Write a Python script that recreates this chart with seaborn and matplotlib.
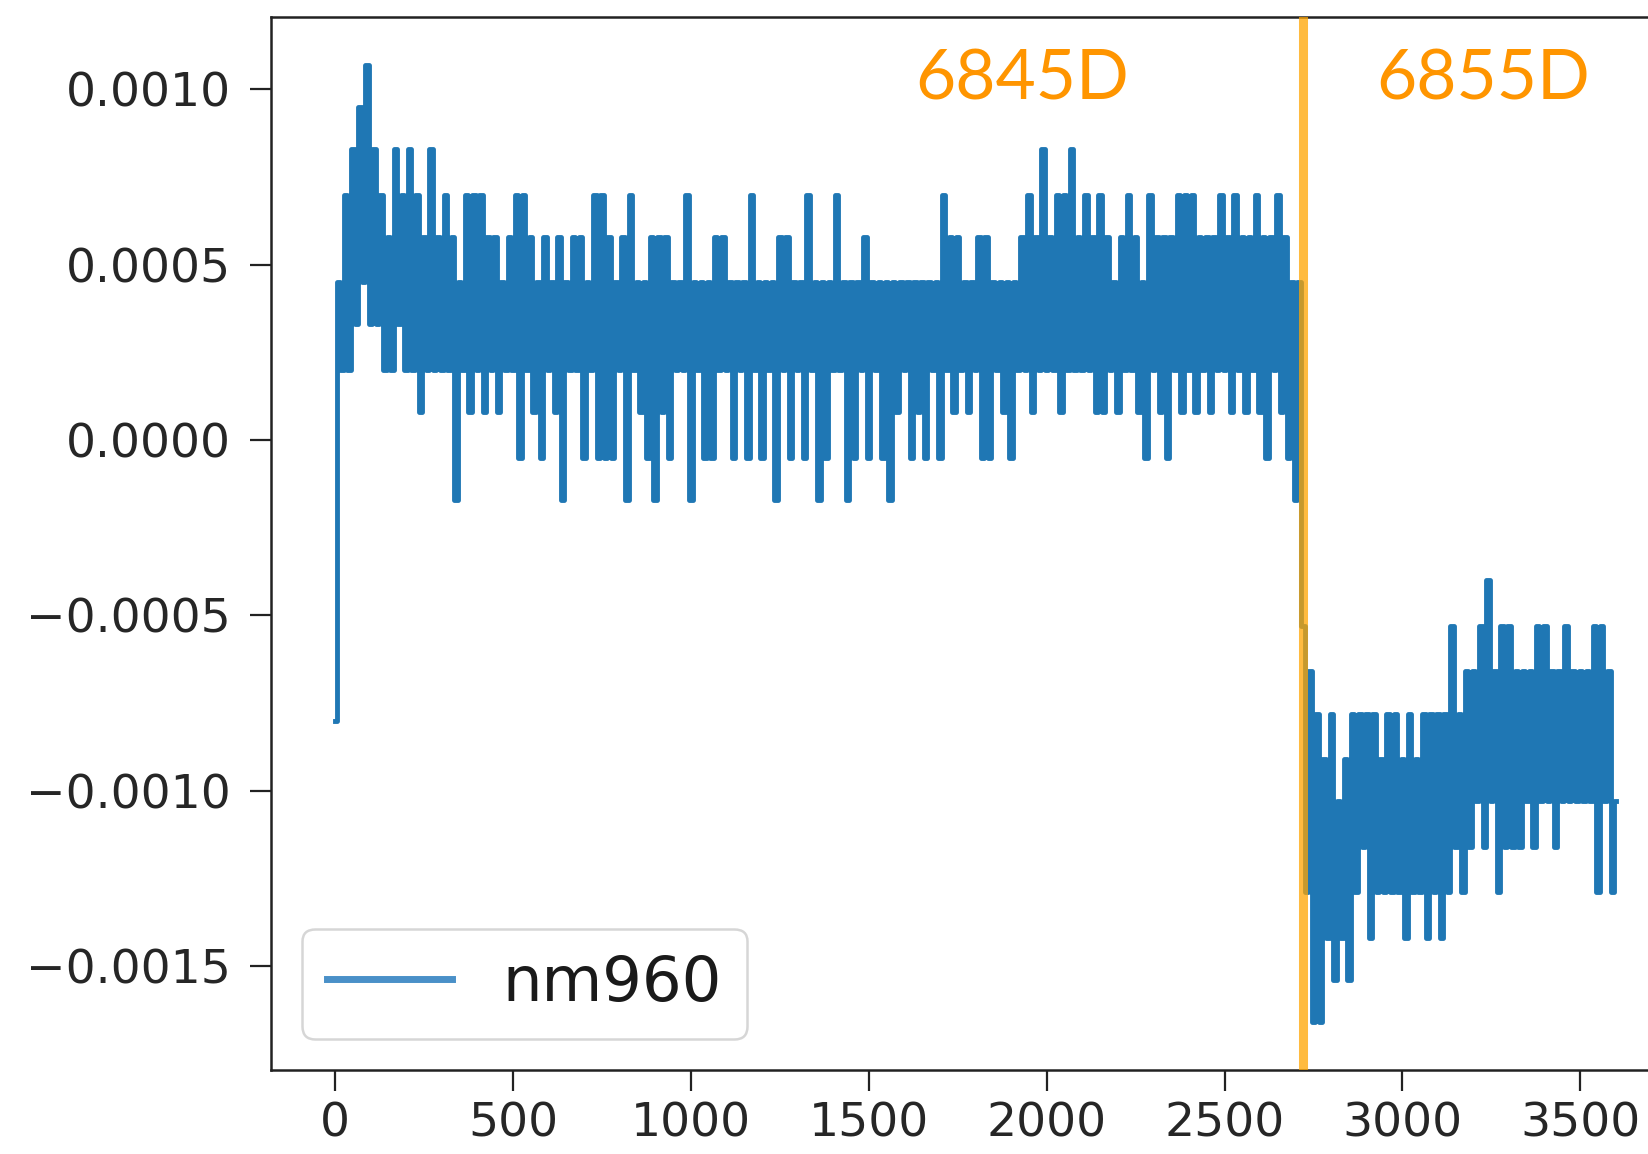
import numpy as np
import pandas as pd
import matplotlib
matplotlib.use("Agg")
import matplotlib.pyplot as plt
import seaborn as sns
from matplotlib.ticker import MultipleLocator

# ---------------- data ----------------
SAMPLE_STEP = 10        # spacing of the plotted samples along the x axis
SCALE = 1e-4            # the series values below are written in units of 1e-4

# nm960 readings, samples 0 .. 990
nm960_a = [
    -8.0, 4.5, 2.0, 7.0, 2.0, 8.3, 3.3, 9.5, 4.5, 10.7,
    3.3, 8.3, 3.3, 7.0, 2.0, 5.8, 2.0, 8.3, 3.3, 7.0,
    2.0, 8.3, 2.0, 7.0, 0.8, 5.8, 2.0, 8.3, 2.0, 5.8,
    2.0, 7.0, 2.0, 5.8, -1.7, 4.5, 2.0, 7.0, 0.8, 7.0,
    2.0, 7.0, 0.8, 5.8, 2.0, 5.8, 0.8, 4.5, 2.0, 5.8,
    2.0, 7.0, -0.5, 7.0, 2.0, 5.8, 0.8, 4.5, -0.5, 5.8,
    2.0, 4.5, 0.8, 5.8, -1.7, 4.5, 2.0, 5.8, 2.0, 5.8,
    -0.5, 4.5, 2.0, 7.0, -0.5, 7.0, -0.5, 5.8, -0.5, 4.5,
    2.0, 5.8, -1.7, 7.0, 2.0, 4.5, 0.8, 4.5, -0.5, 5.8,
    -1.7, 5.8, 0.8, 5.8, -0.5, 4.5, 2.0, 4.5, 2.0, 7.0,
]
# samples 1000 .. 1990
nm960_b = [
    -1.7, 4.5, 2.0, 4.5, -0.5, 4.5, -0.5, 5.8, 2.0, 5.8,
    2.0, 4.5, -0.5, 4.5, 2.0, 4.5, -0.5, 7.0, 2.0, 4.5,
    -0.5, 4.5, 2.0, 4.5, -1.7, 5.8, 2.0, 5.8, -0.5, 4.5,
    2.0, 4.5, -0.5, 7.0, 2.0, 4.5, -1.7, 4.5, -0.5, 4.5,
    2.0, 7.0, 2.0, 4.5, -1.7, 4.5, -0.5, 4.5, 2.0, 5.8,
    -0.5, 4.5, 2.0, 4.5, -0.5, 4.5, -1.7, 4.5, 0.8, 4.5,
    2.0, 4.5, -0.5, 4.5, 0.8, 4.5, -0.5, 4.5, 2.0, 4.5,
    -0.5, 7.0, 2.0, 5.8, 0.8, 5.8, 2.0, 4.5, 0.8, 4.5,
    2.0, 5.8, -0.5, 5.8, -0.5, 4.5, 2.0, 4.5, 0.8, 4.5,
    -0.5, 4.5, 2.0, 5.8, 2.0, 7.0, 0.8, 5.8, 2.0, 8.3,
]
# samples 2000 .. 2710
nm960_c = [
    2.0, 5.8, 2.0, 7.0, 0.8, 7.0, 2.0, 8.3, 2.0, 5.8,
    2.0, 7.0, 2.0, 5.8, 0.8, 7.0, 0.8, 5.8, 2.0, 4.5,
    0.8, 5.8, 2.0, 7.0, 2.0, 5.8, 0.8, 4.5, -0.5, 7.0,
    2.0, 5.8, 0.8, 5.8, -0.5, 5.8, 2.0, 7.0, 0.8, 7.0,
    2.0, 7.0, 0.8, 5.8, 2.0, 5.8, 0.8, 5.8, 2.0, 7.0,
    2.0, 5.8, 0.8, 7.0, 2.0, 5.8, 0.8, 5.8, 2.0, 7.0,
    0.8, 5.8, -0.5, 5.8, 2.0, 7.0, 0.8, 5.8, -0.5, 4.5,
    -1.7, 4.5,
]
# samples 2720 .. 3600 (after the 6845D -> 6855D switch)
nm960_d = [
    -5.3, -12.9, -6.6, -16.6, -7.8, -16.6, -9.1, -14.2, -7.8, -15.4,
    -10.3, -14.2, -9.1, -15.4, -7.8, -12.9, -7.8, -11.6, -7.8, -14.2,
    -7.8, -12.9, -9.1, -12.9, -7.8, -12.9, -7.8, -12.9, -9.1, -14.2,
    -7.8, -12.9, -9.1, -12.9, -7.8, -14.2, -7.8, -12.9, -7.8, -14.2,
    -7.8, -12.9, -5.3, -11.6, -7.8, -12.9, -6.6, -11.6, -6.6, -10.3,
    -5.3, -11.6, -4.0, -10.3, -6.6, -12.9, -5.3, -11.6, -5.3, -11.6,
    -6.6, -11.6, -6.6, -10.3, -6.6, -11.6, -5.3, -10.3, -5.3, -10.3,
    -6.6, -11.6, -6.6, -10.3, -5.3, -10.3, -6.6, -10.3, -6.6, -10.3,
    -6.6, -10.3, -5.3, -12.9, -5.3, -10.3, -6.6, -12.9, -10.3,
]

series_name = "nm960"
switch_x = 2720
event_labels = ["6845D", "6855D"]

# ---------------- assemble ----------------
values = np.array(nm960_a + nm960_b + nm960_c + nm960_d) * SCALE
index = np.arange(len(values)) * SAMPLE_STEP
df = pd.DataFrame({"index": index, series_name: values})

plt.rcParams["font.family"] = ["DejaVu Sans"]
plt.rcParams["axes.unicode_minus"] = True

fig = plt.figure(figsize=(16.49, 11.54), dpi=100)
fig.patch.set_facecolor("white")
ax = fig.add_axes([0.1643, 0.0728, 0.8545, 0.9125])

sns.lineplot(data=df, x="index", y=series_name, ax=ax, color="#1f77b4",
             linewidth=3.5, label=series_name, estimator=None, sort=False,
             errorbar=None, drawstyle="steps-mid")

ax.axvline(switch_x, color="orange", alpha=0.75, linewidth=6.5, zorder=3)

ax.margins(x=0.05, y=0.05)
ax.xaxis.set_major_locator(MultipleLocator(500))
ax.yaxis.set_major_locator(MultipleLocator(0.0005))
ax.ticklabel_format(axis="y", style="plain", useOffset=False)
ax.set_xlabel("")
ax.set_ylabel("")

for sp in ax.spines.values():
    sp.set_linewidth(1.8)
    sp.set_color("#222222")
ax.tick_params(axis="both", labelsize=34, length=15, width=1.6,
               color="#222222", labelcolor="#262626")
ax.tick_params(axis="y", pad=14)
ax.tick_params(axis="x", pad=8)

leg = ax.legend(loc="lower left", fontsize=45, handlelength=2.0,
                frameon=True, fancybox=True, framealpha=0.8, edgecolor="0.8")
leg.get_frame().set_linewidth(1.8)
for h in leg.get_lines():
    h.set_linewidth(5)
    h.set_color("#4a90c8")
for t in leg.get_texts():
    t.set_color("#1a1a1a")

fig.text(1022 / 1649, 1 - 100 / 1154, event_labels[0], color="#FF9500",
         fontsize=50, family=["Lato", "DejaVu Sans"], ha="center", va="baseline")
fig.text(1483 / 1649, 1 - 100 / 1154, event_labels[1], color="#FF9500",
         fontsize=50, family=["Lato", "DejaVu Sans"], ha="center", va="baseline")

fig.savefig("out.png", dpi=100)
